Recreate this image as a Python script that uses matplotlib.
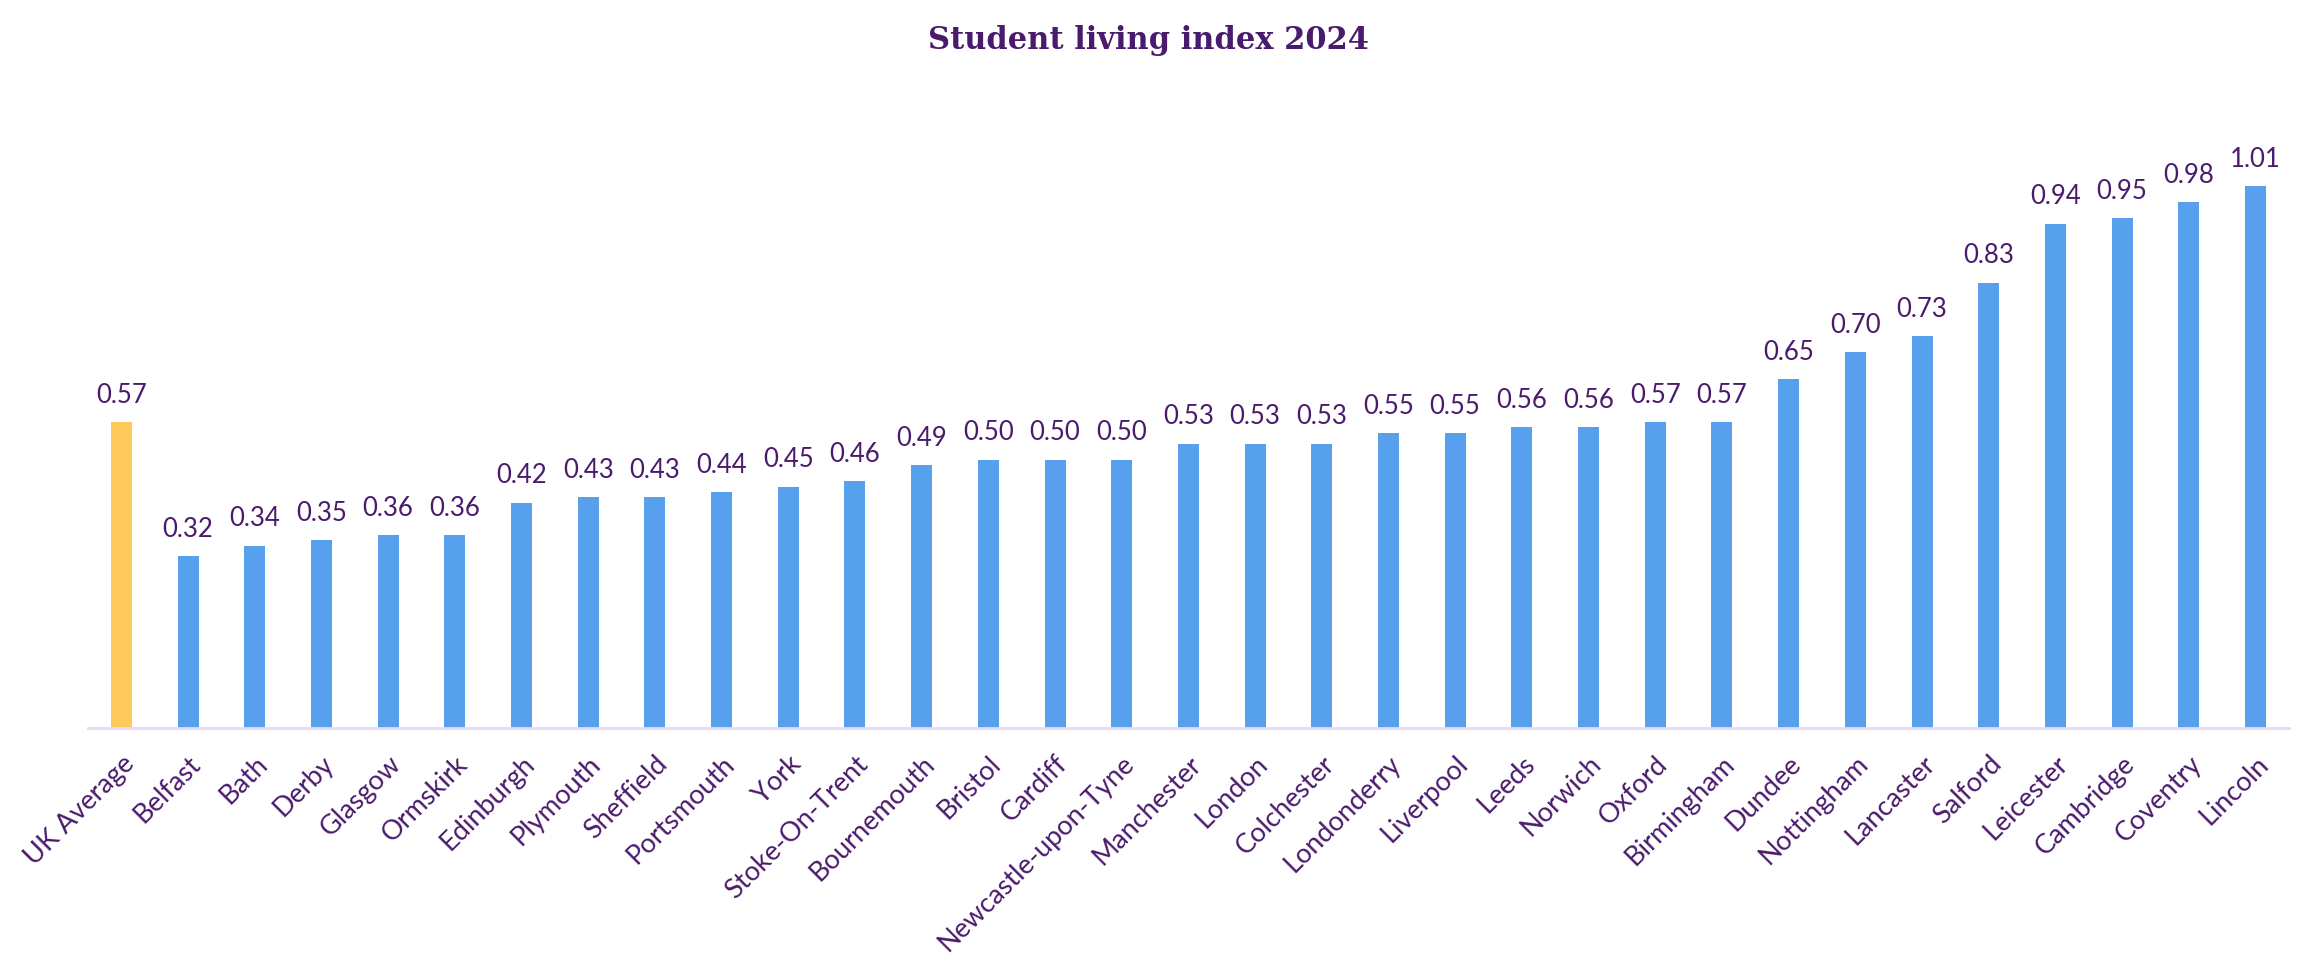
import matplotlib
matplotlib.use("Agg")
import matplotlib.pyplot as plt

cities = ["UK Average", "Belfast", "Bath", "Derby", "Glasgow", "Ormskirk", "Edinburgh",
          "Plymouth", "Sheffield", "Portsmouth", "York", "Stoke-On-Trent", "Bournemouth",
          "Bristol", "Cardiff", "Newcastle-upon-Tyne", "Manchester", "London", "Colchester",
          "Londonderry", "Liverpool", "Leeds", "Norwich", "Oxford", "Birmingham", "Dundee",
          "Nottingham", "Lancaster", "Salford", "Leicester", "Cambridge", "Coventry", "Lincoln"]
values = [0.57, 0.32, 0.34, 0.35, 0.36, 0.36, 0.42, 0.43, 0.43, 0.44, 0.45, 0.46, 0.49,
          0.50, 0.50, 0.50, 0.53, 0.53, 0.53, 0.55, 0.55, 0.56, 0.56, 0.57, 0.57, 0.65,
          0.70, 0.73, 0.83, 0.94, 0.95, 0.98, 1.01]
title = "Student living index 2024"

purple = "#4A1B6D"
blue = "#57A0EC"
yellow = "#FDC95A"

fig = plt.figure(figsize=(22.98, 9.62), dpi=100)
ax = fig.add_axes([0.0383, 0.2422, 0.9577, 0.6694])

x = list(range(len(cities)))
colors = [yellow] + [blue] * (len(cities) - 1)
ax.bar(x, values, width=0.315, color=colors, zorder=2)

for xi, v in zip(x, values):
    ax.annotate(f"{v:.2f}", (xi, v), xytext=(0, 11), textcoords="offset points",
                ha="center", va="bottom", fontsize=18.5, color=purple, family="Lato")

ax.set_xlim(-0.5, len(cities) - 0.5)
ax.set_ylim(0, 1.2)
ax.set_yticks([])
for s in ["top", "right", "left"]:
    ax.spines[s].set_visible(False)
ax.spines["bottom"].set_color("#E6D9F0")
ax.spines["bottom"].set_linewidth(2)
ax.set_xticks(x)
ax.set_xticklabels(cities, rotation=45, ha="right", rotation_mode="anchor",
                   fontsize=19.5, color=purple, family="Lato")
ax.tick_params(axis="x", length=0, pad=16)

fig.text(0.5, 0.958, title, ha="center", va="center", fontsize=22, fontweight="heavy",
         color=purple, family="DejaVu Serif")

fig.savefig("out.png", dpi=100)
